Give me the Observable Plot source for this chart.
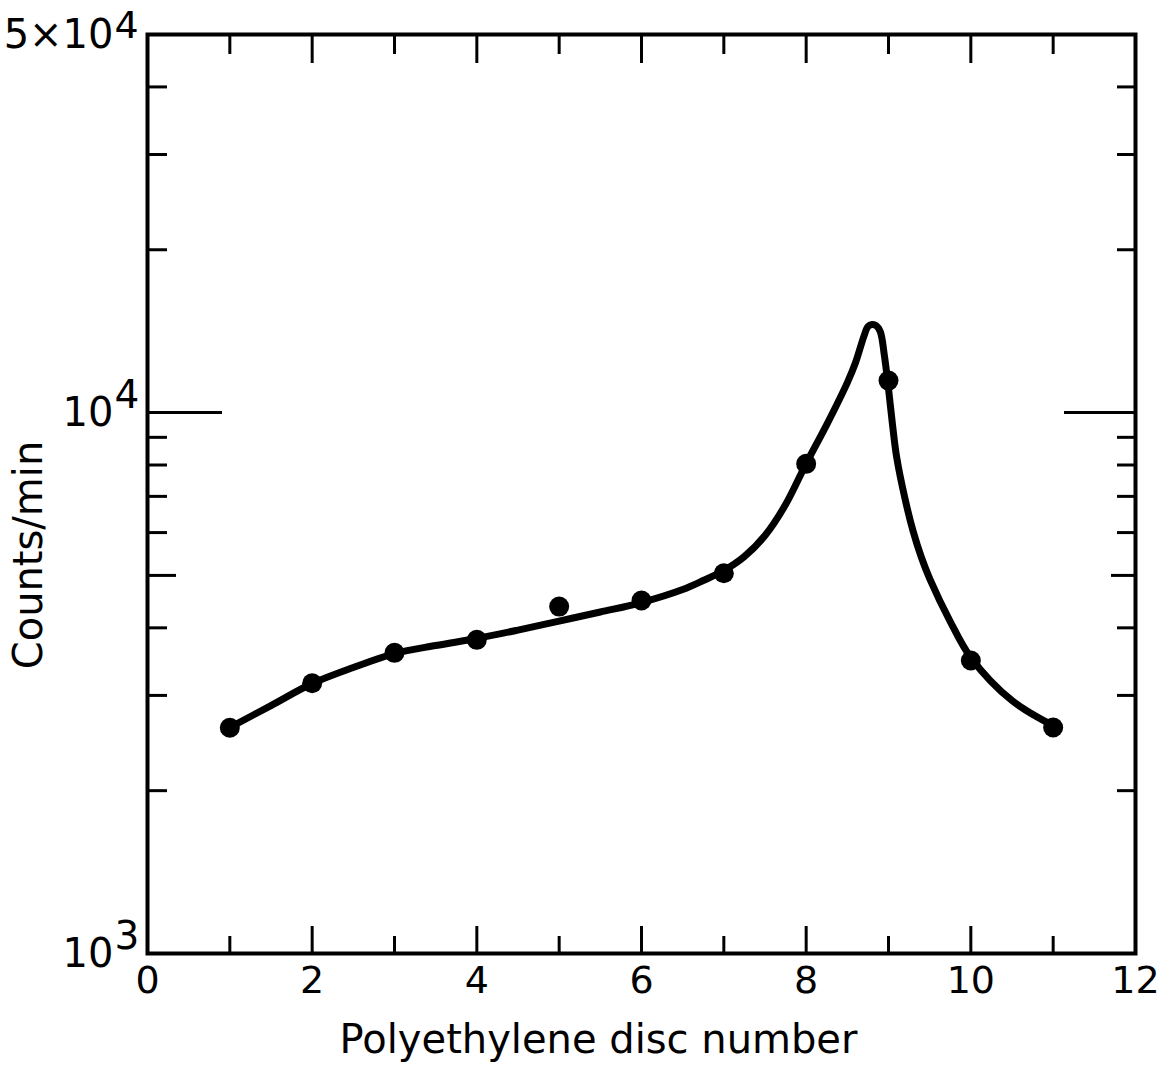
<!DOCTYPE html>
<html>
<head>
<meta charset="utf-8">
<script src="https://cdn.jsdelivr.net/npm/d3@7"></script>
<script src="https://cdn.jsdelivr.net/npm/@observablehq/plot@0.6"></script>
<style>
html, body { margin: 0; padding: 0; background: #fff; }
#chart { width: 1160px; height: 1065px; }
</style>
</head>
<body>
<div id="chart"></div>
<script>
// Measured data points (counts/min per polyethylene disc)
const discNumbers = [1, 2, 3, 4, 5, 6, 7, 8, 9, 10, 11];
const countsPerMin = [2614, 3160, 3596, 3801, 4379, 4493, 5046, 8039, 11460, 3480, 2617];

// Hand-drawn smooth curve
const curveDisc = [1, 1.5, 2, 2.5, 3, 3.5, 4, 4.5, 5, 5.5, 6, 6.5, 6.75, 7, 7.25, 7.5, 7.75, 8, 8.25, 8.5, 8.6, 8.7, 8.75, 8.8, 8.85, 8.9, 8.95, 9, 9.05, 9.1, 9.2, 9.3, 9.4, 9.5, 9.75, 10, 10.5, 11];
const curveCounts = [2617, 2873, 3156, 3379, 3585, 3710, 3823, 3962, 4117, 4279, 4455, 4708, 4892, 5104, 5419, 5925, 6760, 8050, 9501, 11362, 12374, 13819, 14420, 14543, 14482, 14117, 12748, 11075, 9461, 8258, 6935, 6026, 5396, 4934, 4109, 3525, 2935, 2639];

// Axis ticks and labels
const xMajorTicks = [2, 4, 6, 8, 10];
const xMinorTicks = [1, 3, 5, 7, 9, 11];
const xTickLabels = [0, 2, 4, 6, 8, 10, 12];
const yMinorTicks = [2000, 3000, 4000, 6000, 7000, 8000, 9000, 20000, 30000, 40000];
const yMidTicks = [5000];
const yMajorTicks = [10000];
const yLabelValues = [1000, 10000, 50000];
const yLabelBase = ["10", "10", "5×10"];
const yLabelExp = ["3", "4", "4"];
const xTitle = "Polyethylene disc number";
const yTitle = "Counts/min";

const points = discNumbers.map((d, i) => ({disc: d, counts: countsPerMin[i]}));
const curve = curveDisc.map((d, i) => ({disc: d, counts: curveCounts[i]}));
const yLabels = yLabelValues.map((v, i) => ({v, base: yLabelBase[i], exp: yLabelExp[i]}));
const yTop = d3.max(yLabelValues);

const tk = {strokeWidth: 3, fill: "none", label: null};

const chart = Plot.plot({
  width: 1160,
  height: 1065,
  marginLeft: 147,
  marginRight: 25,
  marginTop: 34,
  marginBottom: 112,
  style: {fontFamily: "DejaVu Sans", fontSize: "38px", color: "#000", background: "#fff"},
  x: {domain: [0, 12]},
  y: {type: "log", domain: [1000, 50000]},
  marks: [
    Plot.line(curve, {x: "disc", y: "counts", curve: "catmull-rom", strokeWidth: 7, stroke: "#000", strokeLinecap: "round", strokeLinejoin: "round"}),
    Plot.dot(points, {x: "disc", y: "counts", r: 10, fill: "#000", stroke: "none"}),
    // inward ticks
    Plot.axisX(xMajorTicks, {anchor: "bottom", tickSize: -27, ...tk}),
    Plot.axisX(xMinorTicks, {anchor: "bottom", tickSize: -17, ...tk}),
    Plot.axisX(xMajorTicks, {anchor: "top", tickSize: -28, ...tk}),
    Plot.axisX(xMinorTicks, {anchor: "top", tickSize: -19, ...tk}),
    Plot.axisY(yMinorTicks, {anchor: "left", tickSize: -20, ...tk}),
    Plot.axisY(yMidTicks, {anchor: "left", tickSize: -29, ...tk}),
    Plot.axisY(yMajorTicks, {anchor: "left", tickSize: -75, ...tk}),
    Plot.axisY(yMinorTicks, {anchor: "right", tickSize: -19, ...tk}),
    Plot.axisY(yMidTicks, {anchor: "right", tickSize: -25, ...tk}),
    Plot.axisY(yMajorTicks, {anchor: "right", tickSize: -72, ...tk}),
    // tick labels
    Plot.axisX(xTickLabels, {anchor: "bottom", tickSize: 0, tickPadding: 13, label: null}),
    Plot.text(yLabels, {y: "v", text: "base", frameAnchor: "left", textAnchor: "end", lineAnchor: "middle", dx: -34, dy: 1, fontSize: 40}),
    Plot.text(yLabels, {filter: (d) => d.v < yTop, y: "v", text: "exp", frameAnchor: "left", textAnchor: "start", lineAnchor: "middle", dx: -33, dy: -17, fontSize: 39}),
    Plot.text(yLabels, {filter: (d) => d.v === yTop, y: "v", text: "exp", frameAnchor: "left", textAnchor: "start", lineAnchor: "middle", dx: -33, dy: -9, fontSize: 38}),
    Plot.frame({strokeWidth: 4, stroke: "#000"}),
    // titles
    Plot.text([xTitle], {frameAnchor: "bottom", textAnchor: "middle", lineAnchor: "middle", dx: -43, dy: 87, fontSize: 40}),
    Plot.text([yTitle], {frameAnchor: "left", textAnchor: "middle", lineAnchor: "middle", rotate: -90, dx: -118, dy: 61, fontSize: 40})
  ]
});
document.getElementById("chart").appendChild(chart);
</script>
</body>
</html>
